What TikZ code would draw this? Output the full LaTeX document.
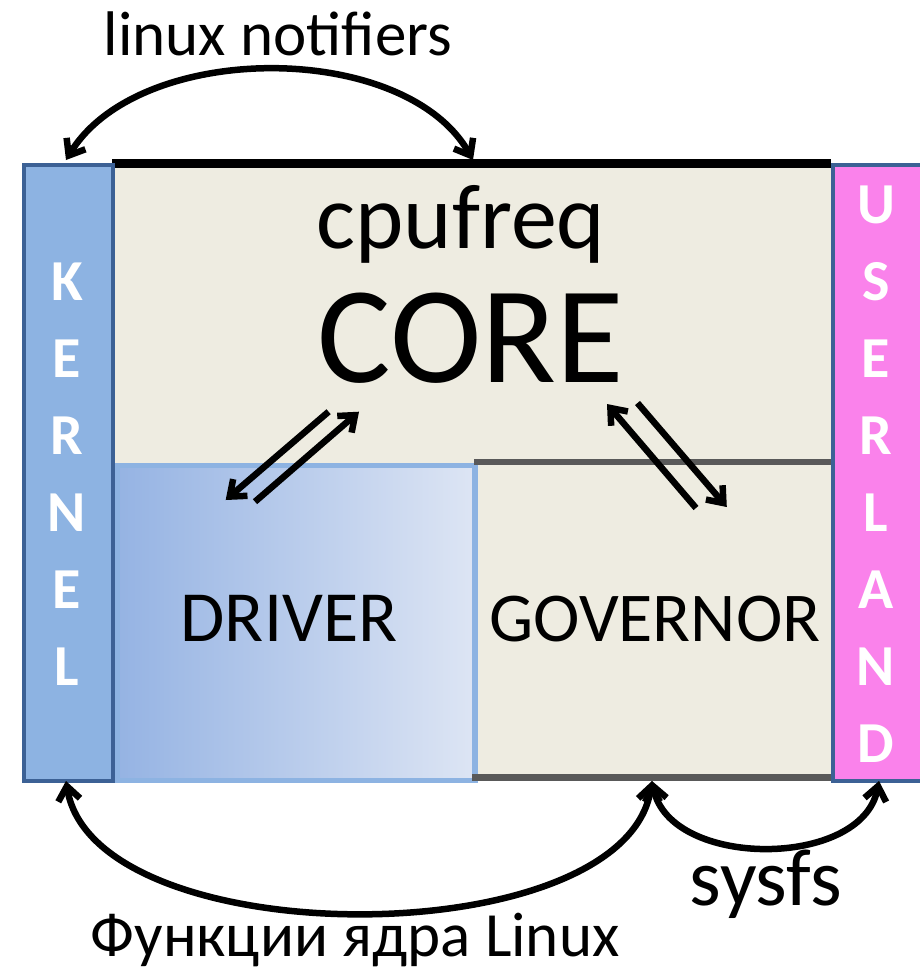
\documentclass[tikz,border=0pt]{standalone}
\usepackage{fontspec}
\setmainfont{Carlito}
\usetikzlibrary{arrows.meta}
\definecolor{kfill}{HTML}{8DB3E2}
\definecolor{kborder}{HTML}{3C6195}
\definecolor{ufill}{HTML}{FA82EB}
\definecolor{beige}{HTML}{EEECE1}
\definecolor{gline}{HTML}{595959}
\definecolor{dleft}{HTML}{95B3E3}
\definecolor{dright}{HTML}{DDE5F4}
\definecolor{dborder}{HTML}{8DB3E2}
\newcommand{\fsz}[1]{\fontsize{#1}{#1}\selectfont}
\begin{document}
\begin{tikzpicture}[x=1pt,y=-1pt,
  conn/.style={line width=6.5pt, black},
  onetip/.style={conn,-{Straight Barb[length=14pt,width=22pt]}},
  twotips/.style={conn,{Straight Barb[length=14pt,width=22pt]}-{Straight Barb[length=14pt,width=22pt]}},
  bar/.style={draw=kborder, line width=4.5pt, inner sep=0pt, anchor=north west},
  barletter/.style={anchor=base, text=white, font=\fsz{58}\bfseries, inner sep=0pt},
  lbl/.style={anchor=base, inner sep=0pt}
]
\useasboundingbox (0,0) rectangle (920,970);
\clip (0,0) rectangle (920,970);

% core area
\node[fill=beige, minimum width=720pt, minimum height=616pt, inner sep=0pt, anchor=north west] (core) at (111,163) {};
\draw[line width=9pt, black] (112,163.5) -- (831,163.5);

% driver
\node[draw=dborder, line width=5.5pt, left color=dleft, right color=dright,
      minimum width=358pt, minimum height=315pt, inner sep=0pt, anchor=north west] (driver) at (114,462.5) {};
\draw[line width=6.5pt, gline] (474,462) -- (831,462);
\draw[line width=6.5pt, gline] (472,777.5) -- (831,777.5);

% side bars
\node[bar, fill=kfill, minimum width=89pt, minimum height=616pt] (kernel) at (21.5,162.5) {};
\node[bar, fill=ufill, minimum width=92pt, minimum height=616pt] (userland) at (830.5,162.5) {};

\foreach \l [count=\i from 0] in {K,E,R,N,E,L}
  \node[barletter] (k\i) at (67,300+77*\i) {\l};
\foreach \l [count=\i from 0] in {U,S,E,R,L,A,N,D}
  \node[barletter] (u\i) at (876,223+77*\i) {\l};

% texts
\node[lbl, font=\fsz{92}] (cpufreq) at (461,248) {cpufreq};
\node[lbl, font=\fsz{138}] (coretext) at (471,382) {CORE};
\node[lbl, font=\fsz{72}] (drivertext) at (289,641) {DRIVER};
\node[lbl, font=\fsz{70}] (governor) at (655,641) {GOVERNOR};
\node[lbl, font=\fsz{63}] (notifiers) at (278,55) {linux notifiers};
\node[lbl, font=\fsz{81}] (sysfs) at (766,905) {sysfs};
\node[lbl, font=\fsz{63}] (funcs) at (355,956) {Функции ядра Linux};

% connector end points
\coordinate (ktop) at (66,160);
\coordinate (ctop) at (473,160);
\coordinate (kbot) at (66,781);
\coordinate (gbot) at (652,781);
\coordinate (ubot) at (879,781);
\coordinate (a1s) at (328.6,411.7); \coordinate (a1e) at (225.7,500);
\coordinate (a2s) at (255,501.7);   \coordinate (a2e) at (359,411.7);
\coordinate (a3s) at (696,508);     \coordinate (a3e) at (607,404);
\coordinate (a4s) at (637.5,403);   \coordinate (a4e) at (726.8,507);

% arcs
\draw[twotips] (ktop) .. controls (139,40) and (405,40) .. (ctop);
\draw[twotips] (kbot) .. controls (95,956) and (625,956) .. (gbot);
\draw[twotips] (gbot) .. controls (670,869) and (862,869) .. (ubot);

% straight arrows
\draw[onetip] (a1s) -- (a1e);
\draw[onetip] (a2s) -- (a2e);
\draw[onetip] (a3s) -- (a3e);
\draw[onetip] (a4s) -- (a4e);
\end{tikzpicture}
\end{document}
